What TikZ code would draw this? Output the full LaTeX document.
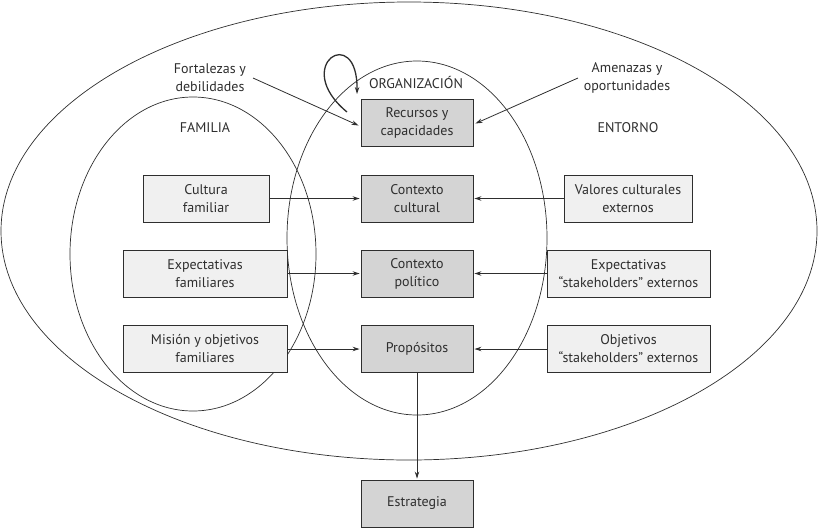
\documentclass[tikz,border=0pt]{standalone}
\usepackage{fontspec}
\setmainfont{PT Sans}
\usetikzlibrary{arrows.meta}
\definecolor{ink}{HTML}{2E2E2E}
\definecolor{darkbox}{HTML}{D4D4D4}
\definecolor{lightbox}{HTML}{F0F0F0}
\begin{document}
\begin{tikzpicture}[x=1pt,y=-1pt,
  every node/.style={font=\fontsize{14}{18}\selectfont, text=ink},
  orgbox/.style={draw=ink, line width=0.9pt, fill=darkbox, minimum width=112pt, minimum height=47pt, align=center, inner sep=2pt},
  famboxs/.style={draw=ink, line width=0.9pt, fill=lightbox, minimum height=47pt, align=center, inner sep=2pt},
  lbl/.style={align=center, inner sep=1pt},
  conn/.style={draw=ink, line width=0.8pt, -{Stealth[length=7pt,width=4.5pt]}},
  ring/.style={draw=ink, line width=0.7pt}
]
\useasboundingbox (0,0) rectangle (818,528);
% ellipses
\draw[ring] (409,231) ellipse [x radius=408, y radius=229];
\draw[ring] (193,254) ellipse [x radius=123, y radius=157];
\draw[ring] (417,238) ellipse [x radius=130, y radius=177];

% labels
\node[lbl] (forta) at (210,78) {Fortalezas y\\debilidades};
\node[lbl] (amen) at (627,78) {Amenazas y\\oportunidades};
\node[lbl] (org) at (416,82) {ORGANIZACIÓN};
\node[lbl] (fam) at (205,128) {FAMILIA};
\node[lbl] (ent) at (628,128) {ENTORNO};

% center boxes
\node[orgbox] (rec) at (417,122.5) {Recursos y\\capacidades};
\node[orgbox] (ccul) at (417,198.5) {Contexto\\cultural};
\node[orgbox] (cpol) at (417,273.5) {Contexto\\político};
\node[orgbox] (prop) at (417,349) {Propósitos};
\node[orgbox] (estr) at (417,503.5) {Estrategia};

% left boxes
\node[famboxs, minimum width=126pt] (cfam) at (206,198.5) {Cultura\\familiar};
\node[famboxs, minimum width=164pt] (efam) at (205,273.5) {Expectativas\\familiares};
\node[famboxs, minimum width=164pt] (mfam) at (205,349) {Misión y objetivos\\familiares};

% right boxes
\node[famboxs, minimum width=128pt] (vext) at (628,198.5) {Valores culturales\\externos};
\node[famboxs, minimum width=163pt] (eext) at (628.5,273.5) {Expectativas\\“stakeholders” externos};
\node[famboxs, minimum width=163pt] (oext) at (628.5,349) {Objetivos\\“stakeholders” externos};

% connectors
\coordinate (fs) at (253,78);
\coordinate (as) at (578,78);
\draw[conn] (fs) -- ([xshift=-2pt,yshift=-3pt]rec.west);
\draw[conn] (as) -- ([xshift=2pt,yshift=-1pt]rec.east);
\coordinate (ls) at (347,112);
\coordinate (le) at (357,94);
\draw[conn, line width=1.3pt] (ls) .. controls (290,65) and (358,22) .. (le);
\draw[conn] (cfam) -- ([xshift=-1pt]ccul.west);
\draw[conn] (vext) -- ([xshift=1pt]ccul.east);
\draw[conn] (efam) -- ([xshift=-1pt]cpol.west);
\draw[conn] (eext) -- ([xshift=1pt]cpol.east);
\draw[conn] (mfam) -- ([xshift=-1pt]prop.west);
\draw[conn] (oext) -- ([xshift=1pt]prop.east);
\draw[conn] (prop) -- ([yshift=1pt]estr.north);
\end{tikzpicture}
\end{document}
